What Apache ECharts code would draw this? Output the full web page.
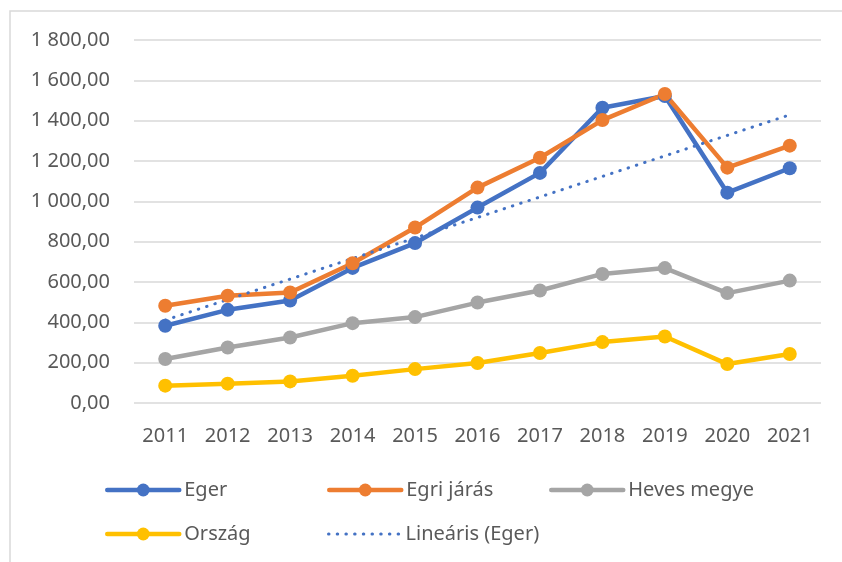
<!DOCTYPE html>
<html>
<head>
<meta charset="utf-8">
<script src="https://cdn.jsdelivr.net/npm/echarts@6/dist/echarts.min.js"></script>
<style>
  html, body { margin: 0; padding: 0; background: #ffffff; }
  #chart { width: 842px; height: 562px; }
</style>
</head>
<body>
<div id="chart"></div>
<script>
// Years on the category axis
const years = ['2011', '2012', '2013', '2014', '2015', '2016', '2017', '2018', '2019', '2020', '2021'];

// Series values per year
const eger       = [383, 462, 508, 670, 793, 969, 1141, 1464, 1522, 1043, 1164];
const egriJaras  = [482, 532, 548, 693, 870, 1068, 1216, 1403, 1532, 1167, 1276];
const hevesMegye = [218, 275, 325, 396, 426, 498, 558, 640, 669, 545, 607];
const orszag     = [86, 96, 107, 135, 168, 198, 248, 302, 330, 193, 243];

// Linear trend of Eger: value at the first and at the last year
const egerTrend = [411, 1429];

// Value-axis ticks
const yTicks = [0, 200, 400, 600, 800, 1000, 1200, 1400, 1600, 1800];

const FONT = 'Noto Sans';
const TEXT = '#595959';

function huNumber(v) {
  const parts = Number(v).toFixed(2).split('.');
  const int = parts[0].replace(/\B(?=(\d{3})+(?!\d))/g, ' ');
  return int + ',' + parts[1];
}

function lineSeries(name, data, color) {
  return {
    name: name,
    type: 'line',
    data: data,
    symbol: 'circle',
    symbolSize: 14,
    lineStyle: { color: color, width: 4.5 },
    itemStyle: { color: color },
    emphasis: { disabled: true },
    animation: false
  };
}

function legendAt(name, left, top, extra) {
  return Object.assign({
    data: [name],
    left: left,
    top: top,
    padding: 0,
    itemWidth: 72,
    itemHeight: 16,
    itemGap: 0,
    selectedMode: false,
    lineStyle: { width: 4.5, cap: 'round' },
    textStyle: { color: TEXT, fontSize: 20, fontFamily: FONT }
  }, extra || {});
}

const chart = echarts.init(document.getElementById('chart'), null, { renderer: 'canvas' });

chart.setOption({
  backgroundColor: '#ffffff',
  animation: false,
  textStyle: { fontFamily: FONT },
  graphic: [{
    type: 'rect',
    shape: { x: 10, y: 11, width: 900, height: 700 },
    style: { fill: 'none', stroke: '#d9d9d9', lineWidth: 1.5 },
    silent: true,
    z: -10
  }],
  grid: { left: 134, right: 21, top: 40, bottom: 159 },
  legend: [
    legendAt('Eger', 105, 480),
    legendAt('Egri járás', 327, 480),
    legendAt('Heves megye', 549, 480),
    legendAt('Ország', 105, 524),
    legendAt('Lineáris (Eger)', 327, 524, {
      itemStyle: { opacity: 0 },
      lineStyle: { width: 3, type: [0.5, 8.2], cap: 'round' }
    })
  ],
  xAxis: {
    type: 'category',
    data: years,
    boundaryGap: true,
    axisLine: { show: false },
    axisTick: { show: false },
    axisLabel: { color: TEXT, fontSize: 20, fontFamily: FONT, margin: 23 }
  },
  yAxis: {
    type: 'value',
    min: yTicks[0],
    max: yTicks[yTicks.length - 1],
    interval: yTicks[1] - yTicks[0],
    axisLine: { show: false },
    axisTick: { show: false },
    splitLine: { lineStyle: { color: '#d9d9d9', width: 1.5 } },
    axisLabel: {
      color: TEXT, fontSize: 20, fontFamily: FONT, margin: 24,
      formatter: huNumber
    }
  },
  series: [
    lineSeries('Eger', eger, '#4472C4'),
    lineSeries('Egri járás', egriJaras, '#ED7D31'),
    lineSeries('Heves megye', hevesMegye, '#A5A5A5'),
    lineSeries('Ország', orszag, '#FFC000'),
    {
      name: 'Lineáris (Eger)',
      type: 'line',
      data: [[years[0], egerTrend[0]], [years[years.length - 1], egerTrend[1]]],
      symbol: 'none',
      lineStyle: { color: '#4472C4', width: 3, type: [0.5, 8.2], cap: 'round' },
      itemStyle: { color: '#4472C4' },
      emphasis: { disabled: true },
      z: 3
    }
  ]
});
</script>
</body>
</html>
